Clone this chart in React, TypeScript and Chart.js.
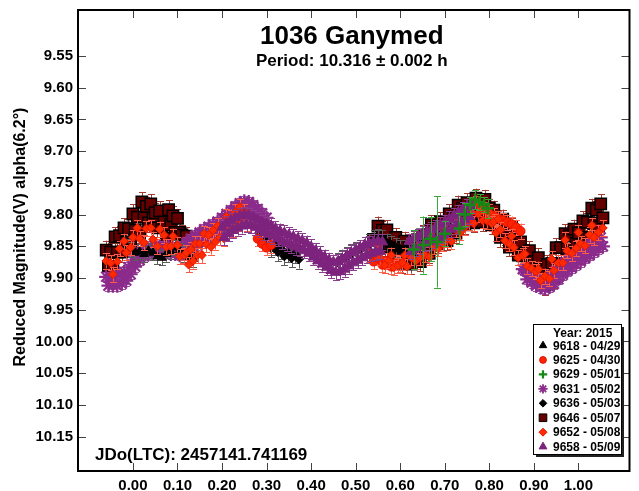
import React, { useEffect, useRef } from 'react';
import { Chart, registerables } from 'chart.js';

Chart.register(...registerables);

const FONT = '"Liberation Sans", Arial, Helvetica, sans-serif';

const chartTitle = '1036 Ganymed';
const chartSubtitle = 'Period: 10.316 ± 0.002 h';
const epochLabel = 'JDo(LTC): 2457141.741169';
const yAxisTitle = 'Reduced Magnitude(V) alpha(6.2°)';
const legendTitle = 'Year: 2015';

const xTicks = [0, 0.1, 0.2, 0.3, 0.4, 0.5, 0.6, 0.7, 0.8, 0.9, 1.0];
const yTicks = [9.55, 9.6, 9.65, 9.7, 9.75, 9.8, 9.85, 9.9, 9.95, 10.0, 10.05, 10.1, 10.15];
const xRange = [-0.1233, 1.1146];
const yRange = [9.4774, 10.2042];

const sessionLabels = [
  '9618 - 04/29',
  '9625 - 04/30',
  '9629 - 05/01',
  '9631 - 05/02',
  '9636 - 05/03',
  '9646 - 05/07',
  '9652 - 05/08',
  '9658 - 05/09',
];
const sessionErrors = [0.012, 0.012, 0.02, 0.008, 0.015, 0.015, 0.012, 0.012];

// [phase, magnitude]
const s9618 = [
  [-0.015, 9.85], [-0.005, 9.855], [0.005, 9.86], [0.015, 9.858], [0.025, 9.862], [0.035, 9.857],
  [0.045, 9.86], [0.055, 9.866], [0.065, 9.868], [0.075, 9.862], [0.085, 9.858], [0.095, 9.852],
  [0.105, 9.856], [0.115, 9.862], [0.125, 9.868], [0.135, 9.87],
];

const s9625 = [
  [0.28, 9.838], [0.29, 9.846], [0.3, 9.852], [0.31, 9.848],
  [0.53, 9.862], [0.54, 9.874], [0.55, 9.868], [0.56, 9.879], [0.57, 9.873], [0.58, 9.882], [0.59, 9.876], [0.6, 9.878],
  [0.8, 9.8], [0.81, 9.802], [0.82, 9.806], [0.83, 9.809], [0.84, 9.812], [0.85, 9.815], [0.86, 9.82], [0.87, 9.826],
];

// [phase, magnitude, error]
const s9629 = [
  [0.63, 9.855, 0.03], [0.652, 9.848, 0.045], [0.668, 9.838, 0.035], [0.683, 9.843, 0.072],
  [0.7, 9.83, 0.02], [0.733, 9.822, 0.025], [0.745, 9.8, 0.018], [0.757, 9.785, 0.012],
  [0.768, 9.776, 0.015], [0.778, 9.78, 0.012], [0.788, 9.784, 0.012], [0.797, 9.79, 0.015],
];

const s9631 = [
  [0.875, 9.886], [0.88, 9.888], [0.885, 9.902], [0.89, 9.893], [0.895, 9.907], [0.9, 9.898], [0.905, 9.912],
  [0.91, 9.901], [0.915, 9.915], [0.92, 9.903], [0.925, 9.917], [0.93, 9.9], [0.935, 9.914], [0.94, 9.895],
  [0.945, 9.909], [0.95, 9.888], [0.955, 9.902], [0.96, 9.881], [0.965, 9.895], [0.97, 9.875], [0.975, 9.889],
  [0.98, 9.87], [0.985, 9.884], [0.99, 9.865], [0.995, 9.879], [1.0, 9.86], [1.005, 9.874], [1.01, 9.855],
  [1.015, 9.869], [1.02, 9.85], [1.025, 9.864], [1.03, 9.845], [1.035, 9.859], [1.04, 9.84], [1.045, 9.854],
  [1.05, 9.836], [1.055, 9.85],
  [-0.06, 9.898], [-0.055, 9.912], [-0.05, 9.898], [-0.045, 9.912], [-0.04, 9.898], [-0.035, 9.912],
  [-0.03, 9.895], [-0.025, 9.909], [-0.02, 9.89], [-0.015, 9.904], [-0.01, 9.883], [-0.005, 9.894],
  [0.0, 9.872], [0.005, 9.882], [0.01, 9.864], [0.015, 9.872], [0.02, 9.858], [0.025, 9.866],
  [0.03, 9.852], [0.035, 9.862], [0.04, 9.85], [0.045, 9.86], [0.05, 9.849], [0.055, 9.858],
  [0.06, 9.85], [0.065, 9.859], [0.07, 9.85], [0.075, 9.86], [0.08, 9.851], [0.085, 9.862],
  [0.09, 9.852], [0.095, 9.862], [0.1, 9.852], [0.105, 9.864], [0.11, 9.85], [0.115, 9.862],
  [0.12, 9.844], [0.125, 9.858], [0.13, 9.838], [0.135, 9.852], [0.14, 9.833], [0.145, 9.847],
  [0.15, 9.828], [0.155, 9.842], [0.16, 9.823], [0.165, 9.837], [0.17, 9.819], [0.175, 9.833],
  [0.18, 9.815], [0.185, 9.829], [0.19, 9.811], [0.195, 9.825], [0.2, 9.805], [0.205, 9.819],
  [0.21, 9.799], [0.215, 9.813], [0.22, 9.793], [0.225, 9.807], [0.23, 9.787], [0.235, 9.801],
  [0.24, 9.782], [0.245, 9.796], [0.25, 9.779], [0.255, 9.793], [0.26, 9.78], [0.265, 9.794],
  [0.27, 9.785], [0.275, 9.799], [0.28, 9.791], [0.285, 9.805], [0.29, 9.798], [0.295, 9.812],
  [0.3, 9.805], [0.305, 9.819],
];

const s9636 = [
  [0.285, 9.833], [0.295, 9.843], [0.3, 9.838], [0.31, 9.852], [0.318, 9.848], [0.325, 9.858],
  [0.333, 9.855], [0.34, 9.865], [0.348, 9.86], [0.356, 9.868], [0.364, 9.862], [0.372, 9.87],
  [0.46, 9.875], [0.47, 9.87], [0.48, 9.866], [0.49, 9.862], [0.5, 9.858], [0.51, 9.855],
  [0.52, 9.85], [0.53, 9.846], [0.54, 9.84], [0.55, 9.838], [0.56, 9.84], [0.57, 9.845],
  [0.58, 9.848], [0.59, 9.852], [0.6, 9.855], [0.61, 9.855], [0.62, 9.852], [0.63, 9.85],
  [0.64, 9.845], [0.65, 9.84],
];

const s9646 = [
  [-0.06, 9.856], [-0.055, 9.882], [-0.05, 9.859], [-0.045, 9.884], [-0.04, 9.835], [-0.035, 9.859],
  [-0.03, 9.833], [-0.025, 9.859], [-0.02, 9.821], [-0.015, 9.843], [-0.01, 9.822], [-0.005, 9.846],
  [0.0, 9.799], [0.005, 9.825], [0.01, 9.804], [0.015, 9.829], [0.02, 9.78], [0.025, 9.804],
  [0.03, 9.787], [0.035, 9.813], [0.04, 9.783], [0.045, 9.805], [0.05, 9.797], [0.055, 9.821],
  [0.06, 9.794], [0.065, 9.82], [0.07, 9.812], [0.075, 9.837], [0.08, 9.792], [0.085, 9.816],
  [0.09, 9.802], [0.095, 9.828], [0.1, 9.806], [0.105, 9.828], [0.11, 9.832], [0.115, 9.856],
  [0.12, 9.834], [0.125, 9.86],
  [0.54, 9.839], [0.545, 9.864], [0.55, 9.818], [0.555, 9.842], [0.56, 9.825], [0.565, 9.851],
  [0.57, 9.824], [0.575, 9.846], [0.58, 9.842], [0.585, 9.866], [0.59, 9.836], [0.595, 9.862],
  [0.6, 9.852], [0.605, 9.877], [0.61, 9.842], [0.615, 9.866], [0.62, 9.852], [0.625, 9.878],
  [0.63, 9.844], [0.635, 9.866], [0.64, 9.85], [0.645, 9.874], [0.65, 9.832], [0.655, 9.858],
  [0.66, 9.836], [0.665, 9.861], [0.67, 9.816], [0.675, 9.84], [0.68, 9.82], [0.685, 9.846],
  [0.69, 9.811], [0.695, 9.833], [0.7, 9.817], [0.705, 9.841], [0.71, 9.799], [0.715, 9.825],
  [0.72, 9.804], [0.725, 9.829], [0.73, 9.785], [0.735, 9.809], [0.74, 9.79], [0.745, 9.816],
  [0.75, 9.781], [0.755, 9.803], [0.76, 9.789], [0.765, 9.813], [0.77, 9.774], [0.775, 9.8],
  [0.78, 9.786], [0.785, 9.811], [0.79, 9.776], [0.795, 9.8], [0.8, 9.79], [0.805, 9.816],
  [0.81, 9.793], [0.815, 9.815], [0.82, 9.812], [0.825, 9.836], [0.83, 9.807], [0.835, 9.833],
  [0.84, 9.826], [0.845, 9.851], [0.85, 9.82], [0.855, 9.844], [0.86, 9.838], [0.865, 9.864],
  [0.87, 9.843], [0.875, 9.865], [0.88, 9.862], [0.885, 9.886], [0.89, 9.857], [0.895, 9.883],
  [0.9, 9.874], [0.905, 9.899], [0.91, 9.868], [0.915, 9.892], [0.92, 9.885], [0.925, 9.911],
  [0.93, 9.879], [0.935, 9.901], [0.94, 9.877], [0.945, 9.901], [0.95, 9.852], [0.955, 9.878],
  [0.96, 9.852], [0.965, 9.877], [0.97, 9.83], [0.975, 9.854], [0.98, 9.833], [0.985, 9.859],
  [0.99, 9.823], [0.995, 9.845], [1.0, 9.829], [1.005, 9.853], [1.01, 9.81], [1.015, 9.836],
  [1.02, 9.812], [1.025, 9.837], [1.03, 9.79], [1.035, 9.814], [1.04, 9.793], [1.045, 9.819],
  [1.05, 9.783], [1.055, 9.805],
];

const s9652 = [
  [-0.06, 9.873], [-0.05, 9.876], [-0.045, 9.894], [-0.035, 9.874],
  [-0.03, 9.854], [-0.02, 9.842], [-0.015, 9.86], [-0.005, 9.852],
  [0.0, 9.836], [0.01, 9.821], [0.015, 9.838], [0.025, 9.844],
  [0.03, 9.822], [0.04, 9.821], [0.045, 9.839], [0.055, 9.85],
  [0.06, 9.823], [0.07, 9.832], [0.075, 9.851], [0.085, 9.85],
  [0.09, 9.834], [0.1, 9.848], [0.105, 9.866], [0.115, 9.864],
  [0.12, 9.86], [0.125, 9.879], [0.13, 9.855], [0.135, 9.873], [0.14, 9.846], [0.145, 9.864],
  [0.15, 9.846], [0.155, 9.864], [0.16, 9.83], [0.165, 9.847], [0.17, 9.832], [0.175, 9.851],
  [0.18, 9.825], [0.185, 9.843], [0.19, 9.818], [0.195, 9.836], [0.2, 9.82], [0.205, 9.838],
  [0.21, 9.803], [0.215, 9.82], [0.22, 9.804], [0.225, 9.823], [0.23, 9.796], [0.235, 9.814],
  [0.24, 9.788], [0.245, 9.806], [0.25, 9.796], [0.255, 9.814],
  [0.55, 9.85], [0.555, 9.868], [0.565, 9.88], [0.575, 9.872],
  [0.58, 9.864], [0.585, 9.883], [0.595, 9.88], [0.605, 9.876],
  [0.61, 9.864], [0.615, 9.882], [0.625, 9.868], [0.635, 9.873],
  [0.64, 9.85], [0.645, 9.868], [0.655, 9.863], [0.665, 9.867],
  [0.67, 9.833], [0.675, 9.85], [0.685, 9.854], [0.695, 9.846],
  [0.7, 9.821], [0.705, 9.839], [0.715, 9.842], [0.725, 9.824],
  [0.73, 9.809], [0.735, 9.828], [0.745, 9.82], [0.755, 9.812],
  [0.76, 9.796], [0.765, 9.814], [0.77, 9.782], [0.775, 9.799], [0.78, 9.79], [0.785, 9.809],
  [0.79, 9.792], [0.795, 9.81], [0.8, 9.796], [0.805, 9.814], [0.81, 9.811], [0.815, 9.829],
  [0.82, 9.807], [0.825, 9.824], [0.835, 9.841], [0.845, 9.846],
  [0.85, 9.834], [0.855, 9.852], [0.865, 9.868], [0.875, 9.864],
  [0.88, 9.862], [0.885, 9.881], [0.895, 9.885], [0.905, 9.89],
  [0.91, 9.886], [0.915, 9.904], [0.925, 9.897], [0.935, 9.901],
  [0.94, 9.87], [0.945, 9.888], [0.955, 9.876], [0.965, 9.876],
  [0.97, 9.84], [0.975, 9.857], [0.985, 9.861], [0.995, 9.853],
  [1.0, 9.828], [1.005, 9.846], [1.015, 9.849], [1.025, 9.832],
  [1.03, 9.817], [1.035, 9.836], [1.045, 9.828], [1.055, 9.821],
];

const s9658 = [
  [0.2, 9.82], [0.205, 9.836], [0.21, 9.814], [0.215, 9.83], [0.22, 9.809], [0.225, 9.825],
  [0.23, 9.805], [0.235, 9.821], [0.24, 9.802], [0.245, 9.818], [0.25, 9.8], [0.255, 9.816],
  [0.26, 9.801], [0.265, 9.817], [0.27, 9.804], [0.275, 9.82], [0.28, 9.808], [0.285, 9.824],
  [0.29, 9.812], [0.295, 9.828], [0.3, 9.815], [0.305, 9.831], [0.31, 9.818], [0.315, 9.834],
  [0.32, 9.822], [0.325, 9.838], [0.33, 9.826], [0.335, 9.842], [0.34, 9.829], [0.345, 9.845],
  [0.35, 9.832], [0.355, 9.848], [0.36, 9.835], [0.365, 9.851], [0.37, 9.838], [0.375, 9.854],
  [0.38, 9.841], [0.385, 9.857], [0.39, 9.845], [0.395, 9.861], [0.4, 9.851], [0.405, 9.867],
  [0.41, 9.857], [0.415, 9.873], [0.42, 9.862], [0.425, 9.878], [0.43, 9.867], [0.435, 9.883],
  [0.44, 9.872], [0.445, 9.888], [0.45, 9.875], [0.455, 9.891], [0.46, 9.874], [0.465, 9.89],
  [0.47, 9.87], [0.475, 9.886], [0.48, 9.865], [0.485, 9.881], [0.49, 9.86], [0.495, 9.876],
  [0.5, 9.856], [0.505, 9.872], [0.51, 9.852], [0.515, 9.868], [0.52, 9.848], [0.525, 9.864],
  [0.53, 9.845], [0.535, 9.861], [0.54, 9.843], [0.545, 9.859], [0.55, 9.842], [0.555, 9.858],
  [0.56, 9.843],
  [0.62, 9.842], [0.625, 9.858], [0.63, 9.838], [0.635, 9.854], [0.64, 9.834], [0.645, 9.85],
  [0.65, 9.83], [0.655, 9.846], [0.66, 9.827], [0.665, 9.843], [0.67, 9.824], [0.675, 9.84],
  [0.68, 9.82], [0.685, 9.836], [0.69, 9.816], [0.695, 9.832], [0.7, 9.812], [0.705, 9.828],
  [0.71, 9.807], [0.715, 9.823], [0.72, 9.802], [0.725, 9.818], [0.73, 9.797], [0.735, 9.813],
  [0.74, 9.792], [0.745, 9.808], [0.75, 9.787], [0.755, 9.803], [0.76, 9.786],
];

const sessionData = [s9618, s9625, s9629, s9631, s9636, s9646, s9652, s9658];

// marker styles per session (same order as sessionLabels)
const sessionStyles = [
  { style: 'triangle', r: 5, bg: '#000000', bc: '#000000', bw: 1, err: '#5a5a5a', order: 6, lr: 4.3 },
  { style: 'circle', r: 4.5, bg: '#ff2200', bc: '#e01500', bw: 1, err: '#ff6a55', order: 4, lr: 3.4 },
  { style: 'cross', r: 6, bg: '#148a14', bc: '#148a14', bw: 2.5, err: '#3aa83a', order: 1, lr: 4.2 },
  { style: 'star', r: 7, bg: '#8b2b8b', bc: '#8b2b8b', bw: 2.2, err: '#a050a0', order: 7, lr: 4.6 },
  { style: 'rectRot', r: 5, bg: '#000000', bc: '#000000', bw: 1, err: '#5a5a5a', order: 5, lr: 3.8 },
  { style: 'rect', r: 8, bg: '#650000', bc: '#000000', bw: 1.5, err: '#a53a30', order: 8, lr: 5.4 },
  { style: 'rectRot', r: 4.3, bg: '#ff2a00', bc: '#e01a00', bw: 1, err: '#ff5a45', order: 3, lr: 4 },
  { style: 'triangle', r: 6, bg: '#7d237d', bc: '#7d237d', bw: 1, err: '#8d3d8d', order: 2, lr: 4.5 },
];

function drawShape(ctx: CanvasRenderingContext2D, style: string, x: number, y: number, r: number, fill: string, stroke: string, lw: number) {
  ctx.save();
  ctx.fillStyle = fill;
  ctx.strokeStyle = stroke;
  ctx.lineWidth = lw;
  ctx.beginPath();
  if (style === 'circle') {
    ctx.arc(x, y, r, 0, Math.PI * 2);
    ctx.fill();
    ctx.stroke();
  } else if (style === 'triangle') {
    ctx.moveTo(x, y - r);
    ctx.lineTo(x + r * 0.866, y + r * 0.5);
    ctx.lineTo(x - r * 0.866, y + r * 0.5);
    ctx.closePath();
    ctx.fill();
    ctx.stroke();
  } else if (style === 'rect') {
    const s = r * Math.SQRT1_2;
    ctx.rect(x - s, y - s, 2 * s, 2 * s);
    ctx.fill();
    ctx.stroke();
  } else if (style === 'rectRot') {
    ctx.moveTo(x, y - r);
    ctx.lineTo(x + r, y);
    ctx.lineTo(x, y + r);
    ctx.lineTo(x - r, y);
    ctx.closePath();
    ctx.fill();
    ctx.stroke();
  } else if (style === 'cross') {
    ctx.moveTo(x - r, y);
    ctx.lineTo(x + r, y);
    ctx.moveTo(x, y - r);
    ctx.lineTo(x, y + r);
    ctx.stroke();
  } else if (style === 'star') {
    for (let k = 0; k < 4; k++) {
      const a = (k * Math.PI) / 4;
      ctx.moveTo(x - Math.cos(a) * r, y - Math.sin(a) * r);
      ctx.lineTo(x + Math.cos(a) * r, y + Math.sin(a) * r);
    }
    ctx.stroke();
  }
  ctx.restore();
}

const errorBarPlugin = {
  id: 'errorBars',
  beforeDatasetDraw(chart: any, args: any) {
    const ds = chart.data.datasets[args.index];
    const meta = args.meta;
    const ctx: CanvasRenderingContext2D = chart.ctx;
    const ys = chart.scales.y;
    const a = chart.chartArea;
    ctx.save();
    ctx.beginPath();
    ctx.rect(a.left, a.top, a.right - a.left, a.bottom - a.top);
    ctx.clip();
    ctx.strokeStyle = ds.errColor;
    ctx.lineWidth = 1;
    ctx.beginPath();
    meta.data.forEach((el: any, i: number) => {
      const d = ds.data[i];
      const x = Math.round(el.x) + 0.5;
      const y1 = ys.getPixelForValue(d.y - d.e);
      const y2 = ys.getPixelForValue(d.y + d.e);
      ctx.moveTo(x, y1);
      ctx.lineTo(x, y2);
      ctx.moveTo(x - 3.5, Math.round(y1) + 0.5);
      ctx.lineTo(x + 3.5, Math.round(y1) + 0.5);
      ctx.moveTo(x - 3.5, Math.round(y2) + 0.5);
      ctx.lineTo(x + 3.5, Math.round(y2) + 0.5);
    });
    ctx.stroke();
    ctx.restore();
  },
};

const framePlugin = {
  id: 'frameAndText',
  afterDraw(chart: any) {
    const ctx: CanvasRenderingContext2D = chart.ctx;
    const a = chart.chartArea;
    const xs = chart.scales.x;
    const ys = chart.scales.y;
    ctx.save();
    // inward tick marks on all four sides
    ctx.strokeStyle = '#444444';
    ctx.lineWidth = 1;
    ctx.beginPath();
    xTicks.forEach((v) => {
      const px = Math.round(xs.getPixelForValue(v)) + 0.5;
      ctx.moveTo(px, a.bottom);
      ctx.lineTo(px, a.bottom - 8);
      ctx.moveTo(px, a.top);
      ctx.lineTo(px, a.top + 8);
    });
    yTicks.forEach((v) => {
      const py = Math.round(ys.getPixelForValue(v)) + 0.5;
      ctx.moveTo(a.left, py);
      ctx.lineTo(a.left + 8, py);
      ctx.moveTo(a.right, py);
      ctx.lineTo(a.right - 8, py);
    });
    ctx.stroke();
    // frame
    ctx.strokeStyle = '#000000';
    ctx.lineWidth = 2;
    ctx.strokeRect(a.left, a.top, a.right - a.left, a.bottom - a.top);

    // titles
    const cx = (a.left + a.right) / 2 - 2;
    ctx.fillStyle = '#000000';
    ctx.textAlign = 'center';
    ctx.textBaseline = 'alphabetic';
    ctx.font = `bold 26px ${FONT}`;
    ctx.fillText(chartTitle, cx, 44);
    ctx.font = `bold 17px ${FONT}`;
    ctx.fillText(chartSubtitle, cx, 66);

    // epoch
    ctx.textAlign = 'left';
    ctx.font = `bold 17px ${FONT}`;
    ctx.fillText(epochLabel, a.left + 17, 460);

    // y axis title
    ctx.save();
    ctx.translate(25, 237);
    ctx.rotate(-Math.PI / 2);
    ctx.textAlign = 'center';
    ctx.font = `bold 16px ${FONT}`;
    ctx.fillText(yAxisTitle, 0, 0);
    ctx.restore();

    // legend box
    const lx = 533, ly = 324, lw = 88, lh = 130;
    ctx.fillStyle = '#222222';
    ctx.fillRect(lx + 3, ly + 3, lw, lh);
    ctx.fillStyle = '#ffffff';
    ctx.fillRect(lx, ly, lw, lh);
    ctx.strokeStyle = '#000000';
    ctx.lineWidth = 1;
    ctx.strokeRect(lx + 0.5, ly + 0.5, lw, lh);
    ctx.fillStyle = '#000000';
    ctx.textAlign = 'left';
    ctx.font = `bold 12px ${FONT}`;
    ctx.fillText(legendTitle, 553, 337);
    sessionLabels.forEach((lab, i) => {
      const by = 349.5 + i * 14.45;
      const st = sessionStyles[i];
      drawShape(ctx, st.style, 543, by - 4, st.lr, st.bg, st.bc, st.style === 'cross' ? 2.2 : st.style === 'star' ? 1.8 : 1);
      ctx.fillStyle = '#000000';
      ctx.font = `bold 12px ${FONT}`;
      ctx.fillText(lab, 553, by);
    });
    ctx.restore();
  },
};

export default function App() {
  const canvasRef = useRef<HTMLCanvasElement | null>(null);

  useEffect(() => {
    document.body.style.margin = '0';
    const canvas = canvasRef.current;
    if (!canvas) return;

    const datasets = sessionData.map((pts, i) => {
      const st = sessionStyles[i];
      return {
        label: sessionLabels[i],
        data: pts.map((p) => ({ x: p[0], y: p[1], e: p.length > 2 ? p[2] : sessionErrors[i] })),
        pointStyle: st.style,
        pointRadius: st.r,
        pointHoverRadius: st.r,
        pointBackgroundColor: st.bg,
        pointBorderColor: st.bc,
        pointBorderWidth: st.bw,
        showLine: false,
        order: st.order,
        errColor: st.err,
      };
    });

    const chart = new Chart(canvas, {
      type: 'scatter',
      data: { datasets } as any,
      options: {
        animation: false,
        responsive: false,
        devicePixelRatio: 1,
        events: [],
        layout: { padding: { top: 10, left: 0, right: -1, bottom: 0 } },
        plugins: {
          legend: { display: false },
          tooltip: { enabled: false },
          title: { display: false },
        },
        scales: {
          x: {
            type: 'linear',
            min: xRange[0],
            max: xRange[1],
            grid: { display: false, drawTicks: false },
            border: { display: false },
            afterBuildTicks: (scale: any) => {
              scale.ticks = xTicks.map((v) => ({ value: v }));
            },
            afterFit: (scale: any) => {
              scale.height = 20;
              scale.paddingLeft = 0;
              scale.paddingRight = 0;
            },
            ticks: {
              autoSkip: false,
              maxRotation: 0,
              padding: 6,
              color: '#000000',
              font: { family: FONT, size: 15, weight: 'bold' },
              callback: (v: any) => Number(v).toFixed(2),
            },
          },
          y: {
            type: 'linear',
            reverse: true,
            min: yRange[0],
            max: yRange[1],
            grid: { display: false, drawTicks: false },
            border: { display: false },
            afterBuildTicks: (scale: any) => {
              scale.ticks = yTicks.map((v) => ({ value: v }));
            },
            afterFit: (scale: any) => {
              scale.width = 78;
              scale.paddingTop = 0;
              scale.paddingBottom = 0;
            },
            ticks: {
              autoSkip: false,
              padding: 5,
              color: '#000000',
              font: { family: FONT, size: 15, weight: 'bold' },
              callback: (v: any) => Number(v).toFixed(2),
            },
          },
        },
      } as any,
      plugins: [errorBarPlugin, framePlugin],
    });

    return () => {
      chart.destroy();
    };
  }, []);

  return (
    <div style={{ width: 639, height: 491, position: 'relative', background: '#ffffff' }}>
      <canvas ref={canvasRef} width={639} height={491} style={{ display: 'block' }} />
    </div>
  );
}
